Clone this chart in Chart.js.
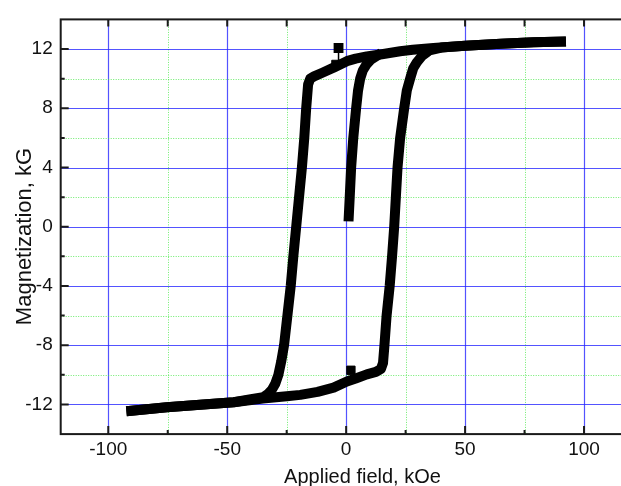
<!DOCTYPE html>
<html>
<head>
<meta charset="utf-8">
<script src="https://cdn.jsdelivr.net/npm/chart.js@4.4.1/dist/chart.umd.min.js"></script>
<style>
  html, body { margin: 0; padding: 0; background: #fff; overflow: hidden; }
  #wrap { position: absolute; left: 0; top: 0; width: 640px; height: 486px; }
</style>
</head>
<body>
<div id="wrap"><canvas id="loop" width="640" height="486"></canvas></div>
<script>
/* hysteresis loop data */
var downField = [90.3, 78.8, 65, 50, 36.7, 28, 22.7, 15, 8.7, 4, 0.3, -5.3, -10, -13.5, -15.1, -16.0, -16.8, -17.6, -18.6, -19.8, -21.0, -22.2, -23.3, -24.7, -26.1, -27.3, -28.5, -29.8, -31.2, -33.0, -34.8, -40, -47.3, -60, -75.4, -90.3];
var downMag   = [12.5, 12.45, 12.35, 12.22, 12.07, 11.95, 11.85, 11.65, 11.5, 11.35, 11.18, 10.74, 10.4, 10.15, 10.0, 9.6, 8.0, 6.0, 4.0, 2.0, 0.0, -2.0, -4.0, -6.0, -8.0, -9.1, -10.0, -10.6, -11.0, -11.3, -11.5, -11.65, -11.85, -12.0, -12.19, -12.42];

var upField = [-90.3, -75.4, -60, -47.3, -35, -25, -19.3, -12, -5.3, 0.3, 4, 8.7, 12.5, 14.6, 15.5, 16.1, 17.0, 18.3, 19.3, 20.2, 20.9, 21.6, 22.7, 24.4, 25.5, 26.9, 28.2, 29.7, 32, 35, 40, 50, 65, 78.8, 90.3];
var upMag   = [-12.42, -12.19, -12.0, -11.85, -11.6, -11.45, -11.35, -11.15, -10.86, -10.45, -10.25, -9.97, -9.8, -9.6, -9.2, -8.0, -6.0, -4.0, -2.0, 0.0, 2.0, 4.0, 6.0, 8.0, 9.2, 10.0, 10.7, 11.1, 11.55, 11.9, 12.1, 12.22, 12.35, 12.45, 12.5];

var virginField = [1.1, 1.5, 2.1, 3.0, 4.2, 5.0, 5.9, 7.0, 8.5, 10.5, 13];
var virginMag   = [0.7, 2.0, 4.0, 6.0, 8.0, 9.2, 10.0, 10.55, 10.95, 11.3, 11.55];

var spikeField = [-3.2, -3.2];
var spikeMag   = [12.07, 11.2];
var strayField = [-4.3, 2.0];
var strayMag   = [10.96, -9.69];

var xTickLabels = [-100, -50, 0, 50, 100];
var yTickLabels = [-12, -8, -4, 0, 4, 8, 12];

function pts(xs, ys) {
    var out = [];
    for (var i = 0; i < xs.length; i++) out.push({x: xs[i], y: ys[i]});
    return out;
}

function band(xs, ys) {
    return {
        data: pts(xs, ys),
        showLine: true,
        borderColor: "#000",
        backgroundColor: "#000",
        borderWidth: 10,
        borderCapStyle: "square",
        borderJoinStyle: "round",
        pointRadius: 0,
        tension: 0
    };
}

var FONT = "'Liberation Sans', Arial, sans-serif";
var MAJOR_GRID = "rgba(40,40,255,0.8)";
var MINOR_GRID = "rgba(60,230,60,0.75)";

/* grid, frame with inward ticks, axis titles */
var framePlugin = {
    id: "frame",
    beforeDatasetsDraw: function (chart) {
        var ctx = chart.ctx, a = chart.chartArea;
        var xs = chart.scales.x, ys = chart.scales.y;
        ctx.save();
        for (var v = -100; v <= 100; v += 25) {
            var px = Math.round(xs.getPixelForValue(v)) + 0.5;
            var major = v % 50 === 0;
            ctx.beginPath();
            ctx.strokeStyle = major ? MAJOR_GRID : MINOR_GRID;
            ctx.lineWidth = major ? 1.2 : 1;
            ctx.setLineDash(major ? [] : [1, 1.5]);
            ctx.moveTo(px, a.top);
            ctx.lineTo(px, a.bottom);
            ctx.stroke();
        }
        for (var w = -12; w <= 12; w += 2) {
            var py = Math.round(ys.getPixelForValue(w)) + 0.5;
            var maj = w % 4 === 0;
            ctx.beginPath();
            ctx.strokeStyle = maj ? MAJOR_GRID : MINOR_GRID;
            ctx.lineWidth = maj ? 1.2 : 1;
            ctx.setLineDash(maj ? [] : [1, 1.5]);
            ctx.moveTo(a.left, py);
            ctx.lineTo(a.right, py);
            ctx.stroke();
        }
        ctx.restore();
    },
    afterDatasetsDraw: function (chart) {
        var ctx = chart.ctx, a = chart.chartArea;
        var xs = chart.scales.x, ys = chart.scales.y;
        ctx.save();
        ctx.strokeStyle = "#1a1a1a";
        ctx.lineWidth = 2;
        ctx.setLineDash([]);
        ctx.strokeRect(a.left, a.top, a.right - a.left, a.bottom - a.top);
        ctx.beginPath();
        for (var v = -100; v <= 100; v += 25) {
            var px = xs.getPixelForValue(v);
            var len = v % 50 === 0 ? 8 : 4;
            ctx.moveTo(px, a.bottom);
            ctx.lineTo(px, a.bottom - len);
            ctx.moveTo(px, a.top);
            ctx.lineTo(px, a.top + 7);
        }
        for (var w = -12; w <= 12; w += 2) {
            var py = ys.getPixelForValue(w);
            var l2 = w % 4 === 0 ? 8 : 4;
            ctx.moveTo(a.left, py);
            ctx.lineTo(a.left + l2, py);
        }
        ctx.stroke();

        ctx.fillStyle = "#111";
        ctx.font = "20px " + FONT;
        ctx.textAlign = "center";
        ctx.textBaseline = "alphabetic";
        ctx.fillText("Applied field, kOe", 362.5, 483);

        ctx.translate(31, 236.5);
        ctx.rotate(-Math.PI / 2);
        ctx.font = "22px " + FONT;
        ctx.fillText("Magnetization, kG", 0, 0);
        ctx.restore();
    }
};

function fixedTicks(list) {
    return function (scale) {
        scale.ticks = list.map(function (v) { return {value: v}; });
    };
}

var canvasElement = document.getElementById("loop");

var config =
{
    type : "scatter",
    data :
    {
        datasets: [
            band(downField, downMag),
            band(upField, upMag),
            band(virginField, virginMag),
            {
                data: pts(spikeField, spikeMag),
                showLine: true,
                borderColor: "#000",
                backgroundColor: "#000",
                borderWidth: 1.5,
                pointStyle: "rect",
                pointRadius: [5.9, 0]
            },
            {
                data: pts(strayField, strayMag),
                showLine: false,
                borderColor: "#000",
                backgroundColor: "#000",
                pointStyle: "rect",
                pointRadius: 5.9
            }
        ],
    },
    options :
    {
        responsive: false,
        animation: false,
        layout: { padding: { top: 12.6, right: 8.4, left: 0, bottom: 0 } },
        plugins: { legend: { display: false }, tooltip: { enabled: false } },
        scales: {
            x: {
                type: "linear",
                min: -120,
                max: 120,
                afterFit: function (s) { s.height = 51.9; },
                afterBuildTicks: fixedTicks(xTickLabels),
                grid: { display: false, drawTicks: false },
                border: { display: false },
                ticks: {
                    padding: 4,
                    color: "#111",
                    font: { family: FONT, size: 19 },
                    maxRotation: 0,
                    autoSkip: false
                }
            },
            y: {
                type: "linear",
                min: -14,
                max: 14,
                afterFit: function (s) { s.width = 60.7; },
                afterBuildTicks: fixedTicks(yTickLabels),
                grid: { display: false, drawTicks: false },
                border: { display: false },
                ticks: {
                    padding: 8,
                    color: "#111",
                    font: { family: FONT, size: 19 },
                    autoSkip: false
                }
            }
        }
    },
    plugins: [framePlugin]
};

var chart = new Chart(canvasElement, config);
</script>
</body>
</html>
